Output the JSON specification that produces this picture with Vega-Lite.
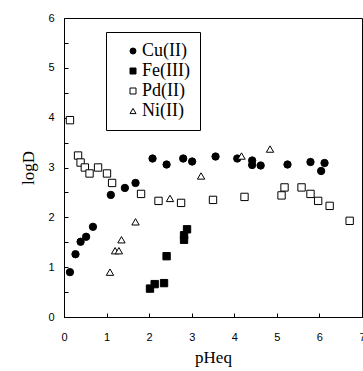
{
  "$schema": "https://vega.github.io/schema/vega-lite/v6.json",
  "width": 298,
  "height": 299,
  "autosize": {"type": "none"},
  "padding": {"left": 64, "top": 18, "right": 1, "bottom": 54},
  "background": "white",
  "config": {
    "view": {"stroke": "black", "strokeWidth": 1},
    "axis": {
      "domainColor": "black",
      "tickColor": "black",
      "grid": false,
      "labelFont": "Liberation Sans",
      "labelFontSize": 11,
      "labelColor": "black",
      "titleFont": "Liberation Serif",
      "titleFontSize": 17,
      "titleFontWeight": "normal",
      "titleColor": "black"
    },
    "legend": {
      "labelFont": "Liberation Serif",
      "labelFontSize": 18,
      "labelColor": "black",
      "orient": "none", "legendX": 42, "legendY": 14,
      "strokeColor": "black", "fillColor": "white", "padding": 10,
      "symbolSize": 36, "symbolStrokeWidth": 1,
      "rowPadding": 2, "labelOffset": 0, "symbolOffset": 8
    }
  },
  "data": {
    "values": [
      {"metal": "Cu(II)", "pH": 0.14, "logD": 0.90},
      {"metal": "Cu(II)", "pH": 0.27, "logD": 1.26},
      {"metal": "Cu(II)", "pH": 0.39, "logD": 1.51},
      {"metal": "Cu(II)", "pH": 0.52, "logD": 1.61},
      {"metal": "Cu(II)", "pH": 0.68, "logD": 1.81},
      {"metal": "Cu(II)", "pH": 1.10, "logD": 2.45},
      {"metal": "Cu(II)", "pH": 1.43, "logD": 2.59},
      {"metal": "Cu(II)", "pH": 1.68, "logD": 2.69},
      {"metal": "Cu(II)", "pH": 2.08, "logD": 3.18},
      {"metal": "Cu(II)", "pH": 2.41, "logD": 3.06},
      {"metal": "Cu(II)", "pH": 2.80, "logD": 3.18},
      {"metal": "Cu(II)", "pH": 3.01, "logD": 3.12},
      {"metal": "Cu(II)", "pH": 3.56, "logD": 3.22},
      {"metal": "Cu(II)", "pH": 4.07, "logD": 3.18},
      {"metal": "Cu(II)", "pH": 4.42, "logD": 3.14},
      {"metal": "Cu(II)", "pH": 4.42, "logD": 3.05},
      {"metal": "Cu(II)", "pH": 4.62, "logD": 3.04},
      {"metal": "Cu(II)", "pH": 5.25, "logD": 3.06},
      {"metal": "Cu(II)", "pH": 5.79, "logD": 3.11},
      {"metal": "Cu(II)", "pH": 6.04, "logD": 2.93},
      {"metal": "Cu(II)", "pH": 6.12, "logD": 3.09},
      {"metal": "Fe(III)", "pH": 2.02, "logD": 0.57},
      {"metal": "Fe(III)", "pH": 2.13, "logD": 0.66},
      {"metal": "Fe(III)", "pH": 2.35, "logD": 0.68},
      {"metal": "Fe(III)", "pH": 2.41, "logD": 1.22},
      {"metal": "Fe(III)", "pH": 2.82, "logD": 1.55},
      {"metal": "Fe(III)", "pH": 2.82, "logD": 1.64},
      {"metal": "Fe(III)", "pH": 2.89, "logD": 1.76},
      {"metal": "Pd(II)", "pH": 0.14, "logD": 3.95},
      {"metal": "Pd(II)", "pH": 0.33, "logD": 3.24},
      {"metal": "Pd(II)", "pH": 0.39, "logD": 3.10},
      {"metal": "Pd(II)", "pH": 0.49, "logD": 3.00},
      {"metal": "Pd(II)", "pH": 0.60, "logD": 2.88},
      {"metal": "Pd(II)", "pH": 0.80, "logD": 3.00},
      {"metal": "Pd(II)", "pH": 1.01, "logD": 2.88},
      {"metal": "Pd(II)", "pH": 1.13, "logD": 2.69},
      {"metal": "Pd(II)", "pH": 1.81, "logD": 2.47},
      {"metal": "Pd(II)", "pH": 2.22, "logD": 2.33},
      {"metal": "Pd(II)", "pH": 2.75, "logD": 2.29},
      {"metal": "Pd(II)", "pH": 3.50, "logD": 2.35},
      {"metal": "Pd(II)", "pH": 4.24, "logD": 2.41},
      {"metal": "Pd(II)", "pH": 5.11, "logD": 2.44},
      {"metal": "Pd(II)", "pH": 5.18, "logD": 2.60},
      {"metal": "Pd(II)", "pH": 5.58, "logD": 2.60},
      {"metal": "Pd(II)", "pH": 5.79, "logD": 2.47},
      {"metal": "Pd(II)", "pH": 5.97, "logD": 2.33},
      {"metal": "Pd(II)", "pH": 6.24, "logD": 2.23},
      {"metal": "Pd(II)", "pH": 6.71, "logD": 1.93},
      {"metal": "Ni(II)", "pH": 1.08, "logD": 0.90},
      {"metal": "Ni(II)", "pH": 1.20, "logD": 1.33},
      {"metal": "Ni(II)", "pH": 1.29, "logD": 1.33},
      {"metal": "Ni(II)", "pH": 1.35, "logD": 1.55},
      {"metal": "Ni(II)", "pH": 1.68, "logD": 1.91},
      {"metal": "Ni(II)", "pH": 2.49, "logD": 2.38},
      {"metal": "Ni(II)", "pH": 3.22, "logD": 2.83},
      {"metal": "Ni(II)", "pH": 4.17, "logD": 3.23},
      {"metal": "Ni(II)", "pH": 4.84, "logD": 3.37}
    ]
  },
  "mark": {"type": "point", "filled": false, "strokeWidth": 1, "opacity": 1, "size": 54},
  "encoding": {
    "x": {
      "field": "pH", "type": "quantitative", "title": "pHeq",
      "scale": {"domain": [0, 7], "nice": false, "zero": false},
      "axis": {"values": [0, 1, 2, 3, 4, 5, 6, 7], "tickSize": -4, "labelPadding": 18, "titlePadding": 7, "labelFlush": false, "labelOverlap": false}
    },
    "y": {
      "field": "logD", "type": "quantitative", "title": "logD",
      "scale": {"domain": [0, 6], "nice": false, "zero": false},
      "axis": {"values": [0, 0.5, 1, 1.5, 2, 2.5, 3, 3.5, 4, 4.5, 5, 5.5, 6], "labelExpr": "datum.value % 1 === 0 ? format(datum.value, 'd') : ''", "tickSize": -4, "labelPadding": 14, "titlePadding": 10, "labelFlush": false, "labelOverlap": false}
    },
    "shape": {
      "field": "metal", "type": "nominal", "title": null,
      "scale": {"domain": ["Cu(II)", "Fe(III)", "Pd(II)", "Ni(II)"], "range": ["circle", "square", "square", "triangle-up"]},
      "legend": {"labelExpr": "datum.label + ' '"}
    },
    "fill": {
      "field": "metal", "type": "nominal", "title": null,
      "scale": {"domain": ["Cu(II)", "Fe(III)", "Pd(II)", "Ni(II)"], "range": ["black", "black", "white", "white"]},
      "legend": {"labelExpr": "datum.label + ' '"}
    },
    "stroke": {
      "field": "metal", "type": "nominal", "title": null,
      "scale": {"domain": ["Cu(II)", "Fe(III)", "Pd(II)", "Ni(II)"], "range": ["black", "black", "black", "black"]},
      "legend": {"labelExpr": "datum.label + ' '"}
    }
  }
}
